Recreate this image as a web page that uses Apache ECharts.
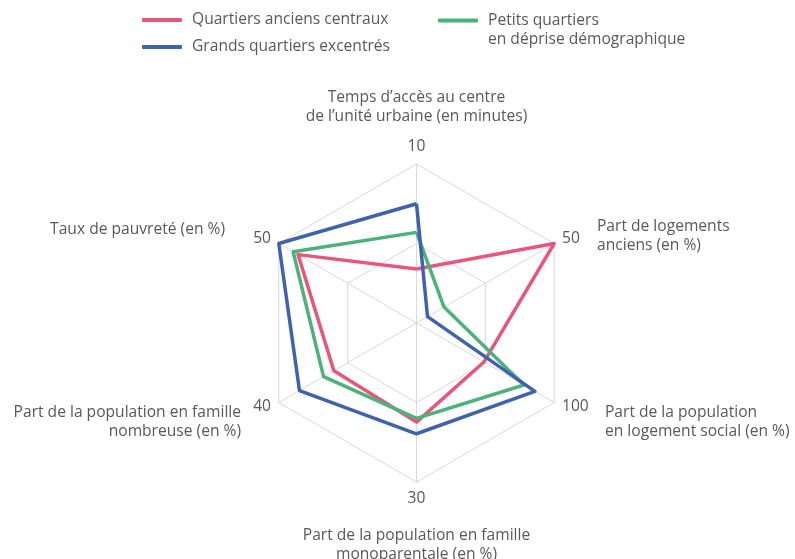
<!DOCTYPE html>
<html><head><meta charset="utf-8">
<script src="https://cdn.jsdelivr.net/npm/echarts@6/dist/echarts.min.js"></script>
<style>html,body{margin:0;padding:0;background:#fff}#c{width:795px;height:559px}</style>
</head><body><div id="c"></div>
<script>
// ---- data ----
const indicatorNames = [
  'Temps d’accès au centre\nde l’unité urbaine (en minutes)',
  'Taux de pauvreté (en %)',
  'Part de la population en famille\nnombreuse (en %)',
  'Part de la population en famille\nmonoparentale (en %)',
  'Part de la population\nen logement social (en %)',
  'Part de logements\nanciens (en %)'
];
const indicatorMax = [10, 50, 40, 30, 100, 50];
const seriesNames = ['Quartiers anciens centraux', 'Petits quartiers en déprise démographique', 'Grands quartiers excentrés'];
const legendLabels = ['Quartiers anciens centraux', 'Petits quartiers\nen déprise démographique', 'Grands quartiers excentrés'];
const anciensCentraux = [3.4, 43, 24, 18.7, 49, 50];
const petitsQuartiers = [5.7, 44.8, 27, 18, 78, 10];
const grandsQuartiers = [7.5, 50, 34, 20.9, 86, 4];

// ---- styling / layout ----
const colors = ['#E8577A', '#4BB37A', '#3F62AE'];
const textColor = '#595959';
const font = 'Open Sans';
const fs = 15.6;
const center = ['416.5', '323'];
const radius = 159;
const nameLayout = [
  {pre: 0, post: 29, pad: [0, 0, 0, 0]},
  {pre: 0, post: 18, pad: [0, 46, 0, 0]},
  {pre: 31, post: 0, pad: [0, 30, 0, 0]},
  {pre: 35, post: 0, pad: [0, 0, 0, 0]},
  {pre: 31, post: 0, pad: [0, 0, 0, 43]},
  {pre: 0, post: 6, pad: [0, 0, 0, 35]}
];
const rich = {};
nameLayout.forEach((l, i) => {
  rich['n' + i] = {fontSize: fs, color: textColor, fontFamily: font, lineHeight: 19, padding: l.pad};
  if (l.pre) rich['s' + l.pre] = {lineHeight: l.pre, fontSize: 1};
  if (l.post) rich['s' + l.post] = {lineHeight: l.post, fontSize: 1};
});

const indicators = indicatorNames.map((n, i) => ({name: n, max: indicatorMax[i], min: 0}));

function nameFormatter(name) {
  const i = indicatorNames.indexOf(name);
  const l = nameLayout[i];
  let lines = name.split('\n').map(t => '{n' + i + '|' + t + '}');
  if (l.pre) lines.unshift('{s' + l.pre + '| }');
  if (l.post) lines.push('{s' + l.post + '| }');
  return lines.join('\n');
}

function legendFormatter(n) {
  const lab = legendLabels[seriesNames.indexOf(n)];
  const parts = lab.split('\n');
  if (parts.length === 1) return '{t|' + lab + '}';
  return '{sp| }\n' + parts.map(p => '{t|' + p + '}').join('\n');
}
const legendText = {
  color: textColor, fontSize: fs, fontFamily: font, lineHeight: 19,
  rich: {
    t: {color: textColor, fontSize: fs, fontFamily: font, lineHeight: 19, padding: [0, 0, 0, 5]},
    sp: {lineHeight: 19, fontSize: 1}
  }
};

const chart = echarts.init(document.getElementById('c'), null, {renderer: 'canvas'});
const seriesData = [anciensCentraux, petitsQuartiers, grandsQuartiers];

chart.setOption({
  animation: false,
  backgroundColor: '#fff',
  legend: [
    {
      data: [seriesNames[0], seriesNames[2]],
      orient: 'vertical', left: 142, top: 10.5, padding: 0, itemGap: 8,
      itemWidth: 40, itemHeight: 4, icon: 'roundRect',
      formatter: legendFormatter,
      textStyle: legendText
    },
    {
      data: [seriesNames[1]],
      orient: 'vertical', left: 438, top: -8, padding: 0,
      itemWidth: 40, itemHeight: 4, icon: 'roundRect',
      formatter: legendFormatter,
      textStyle: legendText
    }
  ],
  radar: [
    {
      center: center, radius: radius, shape: 'polygon', splitNumber: 2, startAngle: 90,
      indicator: indicators,
      nameGap: 9,
      axisName: {color: textColor, fontSize: fs, fontFamily: font, formatter: (n, ind) => String(ind.max)},
      axisLine: {lineStyle: {color: '#D9D9D9', width: 1}},
      splitLine: {lineStyle: {color: '#D9D9D9', width: 1}},
      splitArea: {show: false}
    },
    {
      center: center, radius: radius, shape: 'polygon', splitNumber: 2, startAngle: 90,
      indicator: indicators,
      nameGap: 9,
      axisName: {color: textColor, fontSize: fs, fontFamily: font, formatter: nameFormatter, rich: rich},
      axisLine: {show: false},
      splitLine: {show: false},
      splitArea: {show: false}
    }
  ],
  series: seriesNames.map((s, i) => ({
    type: 'radar',
    radarIndex: 0,
    name: s,
    symbol: 'none',
    color: colors[i],
    lineStyle: {color: colors[i], width: 3.5},
    data: [{value: seriesData[i], name: s}]
  }))
});
</script>
</body></html>
